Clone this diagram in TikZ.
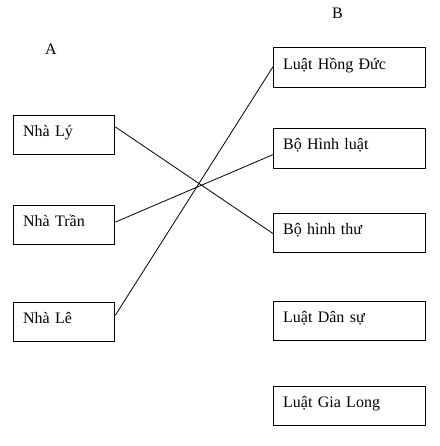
\documentclass[tikz,border=0pt]{standalone}
\usepackage{fontspec}
\setmainfont{Liberation Serif}
\usetikzlibrary{calc}
\begin{document}
\begin{tikzpicture}[x=0.75pt,y=-0.75pt,
  box/.style={draw, line width=0.75pt, rectangle, anchor=north west, inner xsep=7pt, inner ysep=0pt,
    align=left, text height=7.5pt, text depth=5.25pt, font=\fontsize{12pt}{14pt}\selectfont},
  lbox/.style={box, text width=61.75pt, minimum height=29.25pt},
  rbox/.style={box, text width=100pt, minimum height=29.6pt},
  hdr/.style={anchor=base, inner sep=0pt, font=\fontsize{12pt}{14pt}\selectfont},
  link/.style={line width=0.6pt}]
\useasboundingbox (0,0) rectangle (439,446);
\node[hdr] (A) at (51,54) {A};
\node[hdr] (B) at (337.5,18.3) {B};
\node[lbox] (ly) at (13.3,115.3) {Nhà Lý};
\node[lbox] (tran) at (13.3,204.5) {Nhà Trần};
\node[lbox] (le) at (13.3,301.7) {Nhà Lê};
\node[rbox] (hongduc) at (273.3,47.3) {Luật Hồng Đức};
\node[rbox] (hinhluat) at (273.3,128.2) {Bộ Hình luật};
\node[rbox] (hinhthu) at (273.3,212.7) {Bộ hình thư};
\node[rbox] (dansu) at (273.3,300.7) {Luật Dân sự};
\node[rbox] (gialong) at (273.3,385.5) {Luật Gia Long};
\draw[link] ($(ly.north east)!0.29!(ly.south east)$) -- ($(hinhthu.north west)!0.52!(hinhthu.south west)$);
\draw[link] ($(tran.north east)!0.44!(tran.south east)$) -- ($(hinhluat.north west)!0.65!(hinhluat.south west)$);
\draw[link] ($(le.north east)!0.34!(le.south east)$) -- ($(hongduc.north west)!0.47!(hongduc.south west)$);
\end{tikzpicture}
\end{document}
